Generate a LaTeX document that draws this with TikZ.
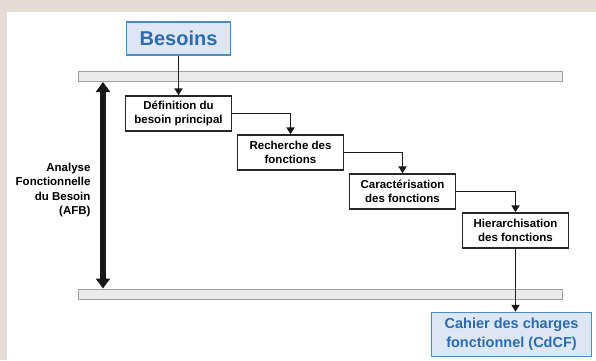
\documentclass[tikz,border=0pt]{standalone}
\usepackage{fontspec}
\setmainfont{Liberation Sans}
\usetikzlibrary{arrows.meta}

\definecolor{frameBeige}{HTML}{E4DCD3}
\definecolor{besoinBlue}{HTML}{4A8ACB}
\definecolor{besoinText}{HTML}{2C6BB0}
\definecolor{besoinFill}{HTML}{DCE7F3}
\definecolor{barFill}{HTML}{EBEBEB}
\definecolor{barDraw}{HTML}{9E9E9E}

\begin{document}
\begin{tikzpicture}[x=1pt, y=-1pt, node distance=39pt,
	every node/.style={align=center},
	stage/.style={draw=black!85, fill=white, line width=1.4pt, minimum width=106pt, minimum height=35pt, inner sep=2pt, font=\fontsize{11.5}{14}\selectfont\bfseries},
	goal/.style={draw=besoinBlue, fill=besoinFill, line width=1.5pt, text=besoinText, inner sep=2pt},
	bar/.style={draw=barDraw, fill=barFill, line width=1pt, minimum height=10pt, minimum width=484pt, inner sep=0pt},
	link/.style={-{Triangle[length=7pt, width=8pt]}, line width=1.9pt, black!90}]
	% frame and page
	\useasboundingbox (0,0) rectangle (596,360);
	\fill[frameBeige] (0,0) rectangle (596,360);
	\fill[white] (7,12) rectangle (596,360);
	% bars
	\node (TopBar)		[bar] at (320.5,76.5)	{};
	\node (BottomBar)	[bar] at (320.5,294)	{};
	% Specification of nodes (position, etc.)
	\node (Besoins)	[goal, minimum width=104pt, minimum height=33pt, font=\fontsize{20}{22}\selectfont\bfseries] at (178.5,38.5)	{Besoins};
	\node (Def)		[stage, below of=Besoins, node distance=75pt]		{Définition du\\besoin principal};
	\node (Rech)	[stage, below of=Def, xshift=112pt]				{Recherche des\\fonctions};
	\node (Carac)	[stage, below of=Rech, xshift=112pt]				{Caractérisation\\des fonctions};
	\node (Hier)	[stage, below of=Carac, xshift=113pt]				{Hierarchisation\\des fonctions};
	\node (CdCF)	[goal, below of=Hier, node distance=104pt, xshift=-4pt, minimum width=160pt, minimum height=44pt, font=\fontsize{14.5}{19}\selectfont\bfseries]	{Cahier des charges\\fonctionnel (CdCF)};
	\coordinate (AFBaxis) at (103,190);
	\node (AFB)		[anchor=east, align=right, font=\fontsize{11.5}{14.5}\selectfont\bfseries] at (94,190)	{Analyse\\Fonctionnelle\\du Besoin\\(AFB)};
	% connectors
	\draw[link]	(Besoins) -- (Def);
	\draw[link]	(Def.east) -| (Rech.north);
	\draw[link]	(Rech.east) -| (Carac.north);
	\draw[link]	(Carac.east) -| (Hier.north);
	\draw[link]	(Hier.south) -- (Hier.south |- CdCF.north);
	\draw[{Triangle[length=10pt, width=14pt]}-{Triangle[length=10pt, width=14pt]}, line width=5.5pt, black!90]	(AFBaxis |- TopBar.south) -- (AFBaxis |- BottomBar.north);
\end{tikzpicture}
\end{document}
